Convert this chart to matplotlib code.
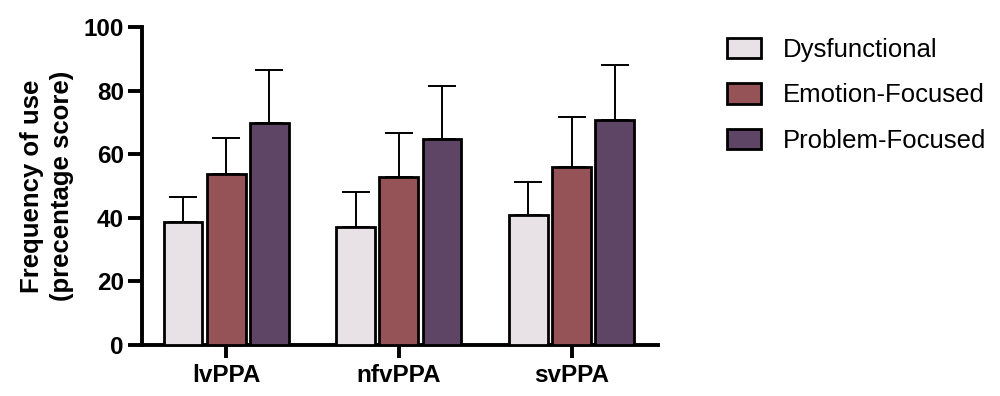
import matplotlib.pyplot as plt
import numpy as np

plt.rcParams['font.family'] = ['Liberation Sans', 'DejaVu Sans']

groups = ['lvPPA', 'nfvPPA', 'svPPA']
series = ['Dysfunctional', 'Emotion-Focused', 'Problem-Focused']
means = {
    'Dysfunctional': [38.7, 37.1, 40.8],
    'Emotion-Focused': [53.6, 52.8, 55.9],
    'Problem-Focused': [69.7, 64.8, 70.7],
}
sds = {
    'Dysfunctional': [7.9, 11.1, 10.5],
    'Emotion-Focused': [11.6, 13.8, 15.7],
    'Problem-Focused': [16.8, 16.5, 17.3],
}
colors = ['#E8E2E6', '#955257', '#5E4465']

fig = plt.figure(figsize=(10, 3.96), dpi=100)
ax = fig.add_axes([0.142, 0.129, 0.516, 0.803])

x = np.arange(len(groups))
step = 0.25
width = 0.225
for i, name in enumerate(series):
    pos = x + (i - 1) * step
    ax.bar(pos, means[name], width, color=colors[i], edgecolor='black',
           linewidth=2.0, label=name, zorder=3)
    ax.errorbar(pos, means[name], yerr=[np.zeros(3), sds[name]], fmt='none',
                ecolor='black', elinewidth=1.4, capsize=10, capthick=1.4, zorder=2)

ax.set_xlim(-0.487, 2.5)
ax.set_ylim(0, 100)
ax.set_yticks([0, 20, 40, 60, 80, 100])
ax.set_xticks(x)
ax.set_xticklabels(groups)
for lbl in ax.get_xticklabels() + ax.get_yticklabels():
    lbl.set_fontweight('bold')
    lbl.set_fontsize(17.5)
ax.tick_params(axis='x', width=2.8, length=9, pad=5)
ax.tick_params(axis='y', width=2.8, length=10, pad=3)

for s in ['top', 'right']:
    ax.spines[s].set_visible(False)
for s in ['left', 'bottom']:
    ax.spines[s].set_linewidth(2.8)

ax.set_ylabel('Frequency of use\n(precentage score)', fontsize=18.5,
              fontweight='bold', labelpad=7, linespacing=1.3)

handles, labels = ax.get_legend_handles_labels()
fig.legend(handles, labels, loc='upper left', bbox_to_anchor=(0.727, 0.905),
           frameon=False, fontsize=18.5, handlelength=1.32, handleheight=0.85,
           labelspacing=0.83, handletextpad=0.85, borderpad=0, borderaxespad=0)

fig.savefig('out.png', dpi=100)
